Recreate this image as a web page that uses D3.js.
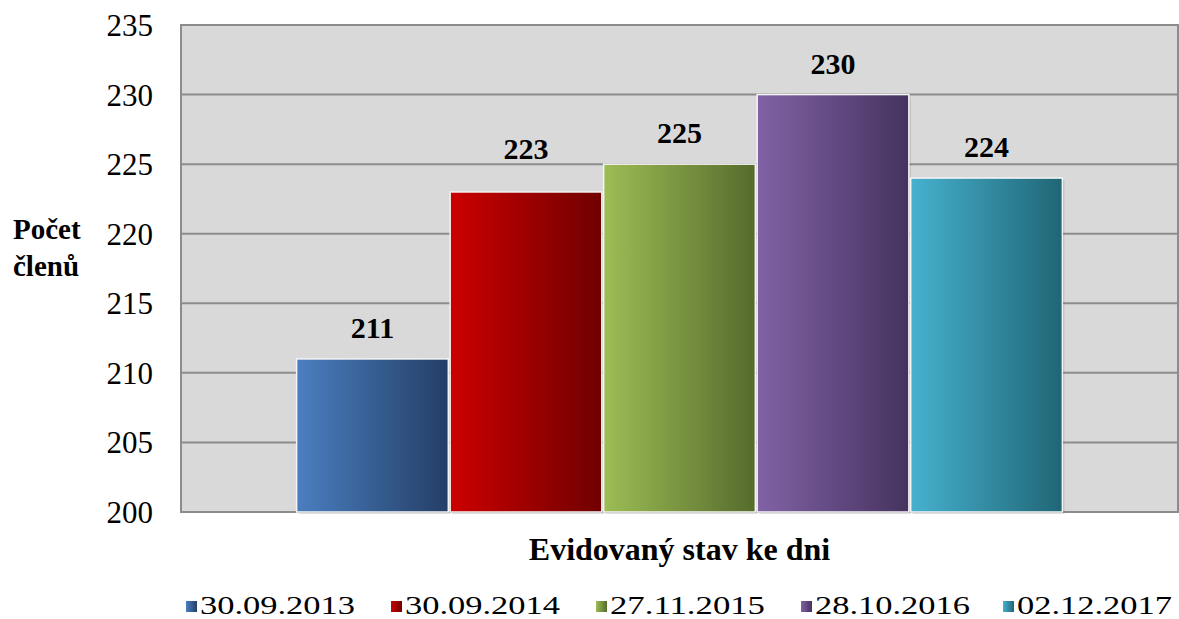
<!DOCTYPE html>
<html>
<head>
<meta charset="utf-8">
<script src="https://cdn.jsdelivr.net/npm/d3@7"></script>
<style>
  body { margin: 0; background: #fff; }
  svg text { font-family: "Liberation Serif", Tinos, "Times New Roman", Times, "DejaVu Serif", serif; }
</style>
</head>
<body>
<div id="chart"></div>
<script>
let dates = ["30.09.2013", "30.09.2014", "27.11.2015", "28.10.2016", "02.12.2017"];
let counts = [211, 223, 225, 230, 224];
let yTicks = [200, 205, 210, 215, 220, 225, 230, 235];
let colorLight = ["#4a7fc0", "#cc0000", "#9dbd55", "#8162a6", "#46b1cf"];
let colorDark = ["#243e66", "#700000", "#566b2c", "#45335e", "#206675"];
// label gap above each bar (the 2014 label sits a bit higher in the original)
let labelGap = [21, 33, 21, 21, 21];

let width = 1179, height = 619;
let margin = {top: 25, right: 1, bottom: 107, left: 181};
let plotW = width - margin.left - margin.right,
    plotH = height - margin.top - margin.bottom;

let svg = d3.select("#chart").append("svg")
    .attr("width", width)
    .attr("height", height);

let defs = svg.append("defs");
dates.forEach((d, i) => {
  let g = defs.append("linearGradient")
      .attr("id", "grad" + i)
      .attr("x1", "0%").attr("x2", "100%")
      .attr("y1", "0%").attr("y2", "0%");
  g.append("stop").attr("offset", "0%").attr("stop-color", colorLight[i]);
  g.append("stop").attr("offset", "100%").attr("stop-color", colorDark[i]);
});

let y = d3.scaleLinear().domain([200, 235]).range([plotH, 0]);
let x0 = d3.scaleBand().domain(["stav"]).range([0, plotW]).paddingInner(0).paddingOuter(0.151);
let x1 = d3.scaleBand().domain(dates).range([0, x0.bandwidth()]).paddingInner(0.012);

let plot = svg.append("g").attr("transform", `translate(${margin.left},${margin.top})`);

plot.append("rect")
    .attr("width", plotW).attr("height", plotH)
    .attr("fill", "#d9d9d9")
    .attr("stroke", "#8c8c8c").attr("stroke-width", 2);

plot.append("g")
    .selectAll("line")
    .data(yTicks.slice(1, -1))
    .enter().append("line")
    .attr("x1", 0).attr("x2", plotW)
    .attr("y1", d => y(d)).attr("y2", d => y(d))
    .attr("stroke", "#8c8c8c").attr("stroke-width", 2);

// y tick labels
svg.append("g")
    .selectAll("text")
    .data(yTicks)
    .enter().append("text")
    .attr("x", 153)
    .attr("y", d => margin.top + y(d) + 11)
    .attr("text-anchor", "end")
    .attr("font-size", 31)
    .attr("fill", "#000")
    .text(d => d);

let group = plot.append("g").attr("transform", `translate(${x0("stav")},0)`);

// faint shadow under the bars
group.selectAll("rect.shadow")
    .data(counts)
    .enter().append("rect")
    .attr("class", "shadow")
    .attr("x", (d, i) => x1(dates[i]) + 2)
    .attr("y", d => y(d) + 2)
    .attr("width", x1.bandwidth())
    .attr("height", d => plotH - y(d))
    .attr("fill", "#000").attr("opacity", 0.12);

group.selectAll("rect.bar")
    .data(counts)
    .enter().append("rect")
    .attr("class", "bar")
    .attr("x", (d, i) => x1(dates[i]))
    .attr("y", d => y(d))
    .attr("width", x1.bandwidth())
    .attr("height", d => plotH - y(d))
    .attr("fill", (d, i) => `url(#grad${i})`)
    .attr("stroke", "#f4f4f4").attr("stroke-width", 1.5);

group.selectAll("text.val")
    .data(counts)
    .enter().append("text")
    .attr("class", "val")
    .attr("x", (d, i) => x1(dates[i]) + x1.bandwidth() / 2)
    .attr("y", (d, i) => y(d) - labelGap[i])
    .attr("text-anchor", "middle")
    .attr("font-size", 30)
    .attr("font-weight", "bold")
    .text(d => d);

// axis titles
svg.append("text")
    .attr("x", margin.left + plotW / 2)
    .attr("y", 560)
    .attr("text-anchor", "middle")
    .attr("font-size", 32)
    .attr("font-weight", "bold")
    .text("Evidovaný stav ke dni");

let ytitle = svg.append("text")
    .attr("font-size", 29)
    .attr("font-weight", "bold");
ytitle.append("tspan").attr("x", 13).attr("y", 239).text("Počet");
ytitle.append("tspan").attr("x", 13).attr("y", 276).text("členů");

// legend
let legendX = [186, 391, 596, 801, 1003];
let legend = svg.append("g")
    .selectAll("g")
    .data(dates)
    .enter().append("g")
    .attr("transform", (d, i) => `translate(${legendX[i]},601)`);

legend.append("rect")
    .attr("width", 11).attr("height", 11)
    .attr("fill", (d, i) => `url(#grad${i})`);

legend.append("text")
    .attr("x", 14)
    .attr("y", 13)
    .attr("font-size", 26)
    .attr("textLength", 155)
    .attr("lengthAdjust", "spacingAndGlyphs")
    .text(d => d);
</script>
</body>
</html>
